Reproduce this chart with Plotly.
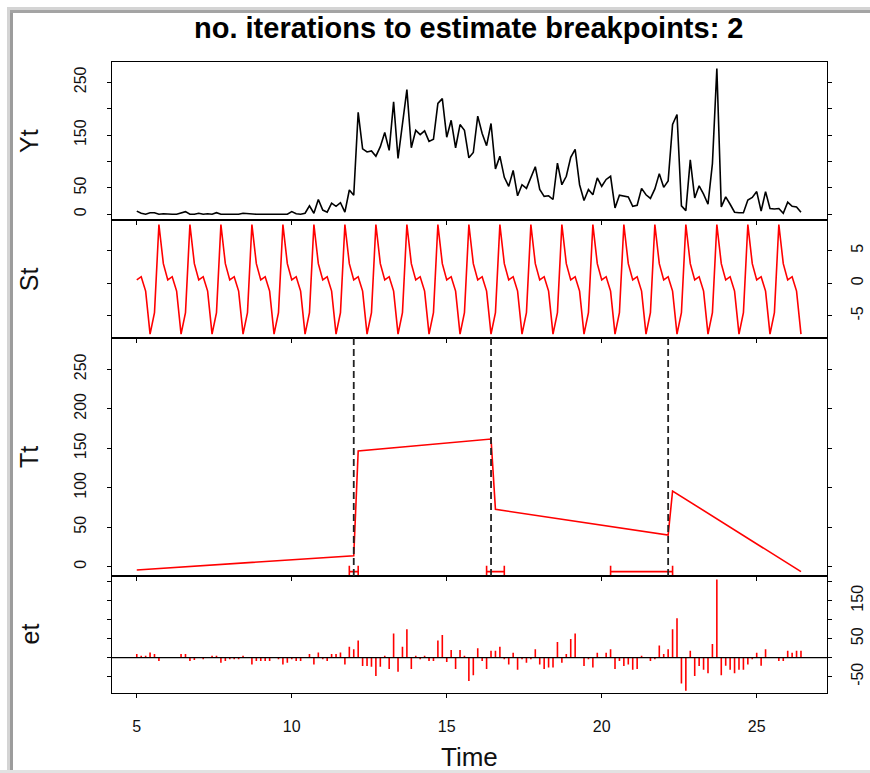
import numpy as np
import plotly.graph_objects as go

# ---------------- data ----------------
start_week = 5.0
obs_per_week = 7

yt = [6, 2, 0, 3, 3, 0, 1, 0, 0, 0, 2, 5, 0, 0, 2, 0, 1, 0, 3, 0,
      0, 0, 1, 0, 2, 1, 0, 0, 0, 0, 0, 0, 0, 0, 0, 5, 1, 0, 2, 16,
      2, 28, 8, 4, 21, 15, 22, 4, 46, 36, 193, 124, 118, 120, 110, 128, 155, 121, 213, 106,
      176, 236, 126, 159, 151, 158, 138, 142, 210, 219, 146, 178, 126, 170, 159, 107, 117, 186, 153, 130,
      172, 86, 110, 70, 53, 83, 35, 56, 49, 71, 90, 47, 34, 35, 28, 97, 56, 72, 108, 123,
      56, 26, 47, 37, 69, 53, 66, 72, 12, 36, 35, 33, 15, 17, 49, 37, 30, 48, 77, 51,
      63, 170, 189, 16, 7, 103, 31, 54, 38, 19, 96, 276, 14, 33, 19, 4, 3, 3, 27, 32,
      43, 6, 43, 11, 10, 11, 2, 23, 15, 14, 4]

et = [10, 5, 5, 14, 10, -9, 0, 0, 0, 0, 10, 10, -9, -6, 0, -4, 0, 5, 5, -13,
      -9, -4, -4, -4, 5, 0, -18, -9, -9, -9, -9, 0, -4, -18, -13, -4, -9, -9, 0, 10,
      -18, 14, -4, -9, 10, 10, 14, -18, 29, 22, 45, -22, -22, -24, -48, -24, 5, -30, 64, -37,
      29, 75, -30, 5, -4, 5, -9, -9, 45, 60, -11, 20, -30, 20, 5, -61, -46, 25, -9, -30,
      18, 18, 29, -4, -18, 13, -32, -4, -13, -4, 22, -18, -30, -26, -26, 41, -13, 10, 49, 64,
      0, -22, -4, -26, 13, 0, 13, 22, -30, -9, -22, -18, -32, -30, 5, 0, -9, -4, 32, 10,
      22, 75, 104, -68, -87, 18, -48, -22, -32, -41, 36, 206, -46, -21, -32, -41, -32, -32, -18, -4,
      13, -21, 22, 0, 0, -9, -9, 18, 13, 18, 18]

# one weekly seasonal cycle (St), starting on the first observation
st_cycle = [0.5, 1.0, -1.2, -7.8, -4.5, 9.0, 3.0]

# piecewise linear trend (segment start/end values)
trend_time = [5.0, 12.0, 12.143, 16.429, 16.571, 22.143, 22.286, 26.429]
trend_vals = [-4.2, 13.9, 146.5, 161.6, 72.6, 40.1, 95.8, -6.3]

# breakpoints and their confidence intervals
bp_time = [12.0, 16.429, 22.143]
ci_lo = [11.857, 16.286, 20.286]
ci_hi = [12.143, 16.857, 22.286]

x_ticks = [5, 10, 15, 20, 25]
title_text = "no. iterations to estimate breakpoints: 2"

# ---------------- derived series ----------------
n = len(yt)
t = start_week + np.arange(n) / obs_per_week
st = np.tile(st_cycle, n // len(st_cycle) + 1)[:n]

eh_x, eh_y = [], []
for ti, v in zip(t, et):
    eh_x += [ti, ti, None]
    eh_y += [0, v, None]

ci_y = [min(trend_vals)] * len(bp_time)
ci_plus = [h - b for h, b in zip(ci_hi, bp_time)]
ci_minus = [b - l for l, b in zip(ci_lo, bp_time)]

# ---------------- layout geometry ----------------
W, H = 870, 773
PL, PR = 111.8, 827.0
panels = [(61.7, 220.3), (220.3, 338.0), (338.0, 576.0), (576.0, 693.0)]
xdom = [PL / W, PR / W]
ydoms = [[1 - b / H, 1 - tp / H] for tp, b in panels]
xrange = [4.194, 27.268]

RED = "#ff0000"
FONT = "Liberation Sans, Arial, sans-serif"
LW = 1.6

fig = go.Figure()
fig.add_trace(go.Scatter(x=t, y=yt, mode="lines", line=dict(color="black", width=LW),
                         xaxis="x", yaxis="y", showlegend=False))
fig.add_trace(go.Scatter(x=t, y=st, mode="lines", line=dict(color=RED, width=LW),
                         xaxis="x2", yaxis="y2", showlegend=False))
fig.add_trace(go.Scatter(x=trend_time, y=trend_vals, mode="lines", line=dict(color=RED, width=LW),
                         xaxis="x3", yaxis="y3", showlegend=False))
fig.add_trace(go.Scatter(x=bp_time, y=ci_y, mode="markers",
                         marker=dict(size=1, color=RED),
                         error_x=dict(type="data", symmetric=False, array=ci_plus,
                                      arrayminus=ci_minus, color=RED, thickness=1.6, width=6),
                         xaxis="x3", yaxis="y3", showlegend=False, cliponaxis=True))
fig.add_trace(go.Scatter(x=eh_x, y=eh_y, mode="lines", line=dict(color=RED, width=LW),
                         xaxis="x4", yaxis="y4", showlegend=False))

tickfont = dict(family=FONT, size=16, color="#111")

def xaxis(anchor, labels):
    return dict(domain=xdom, range=xrange, anchor=anchor, showline=True, linecolor="black",
                linewidth=1.2, mirror=True, ticks="outside", ticklen=4, tickcolor="black",
                tickwidth=1.2, tickvals=x_ticks, showticklabels=labels, tickfont=tickfont,
                showgrid=False, zeroline=False, ticklabelstandoff=15, automargin=False)

def yaxis(dom, rng, vals, texts, side, anchor):
    return dict(domain=dom, range=rng, anchor=anchor, side=side, showline=True,
                linecolor="black", linewidth=1.2, mirror="ticks", ticks="outside", ticklen=4,
                tickcolor="black", tickwidth=1.2, tickvals=vals, ticktext=texts,
                tickangle=-90, tickfont=tickfont, showgrid=False, zeroline=False,
                ticklabelstandoff=14 if side == "left" else 12, automargin=False)

layout = dict(
    width=W, height=H, margin=dict(l=0, r=0, t=0, b=0, autoexpand=False),
    paper_bgcolor="white", plot_bgcolor="white", showlegend=False,
    xaxis=xaxis("y", False),
    xaxis2=xaxis("y2", False),
    xaxis3=xaxis("y3", False),
    xaxis4=xaxis("y4", True),
    yaxis=yaxis(ydoms[0], [-11.4, 289], [0, 50, 100, 150, 200, 250],
                ["0", "50", "", "150", "", "250"], "left", "x"),
    yaxis2=yaxis(ydoms[1], [-8.4, 9.65], [-5, 0, 5], ["-5", "0", "5"], "right", "x2"),
    yaxis3=yaxis(ydoms[2], [-11.8, 289.6], [0, 50, 100, 150, 200, 250],
                 ["0", "50", "100", "150", "200", "250"], "left", "x3"),
    yaxis4=yaxis(ydoms[3], [-92.9, 215], [-50, 0, 50, 100, 150, 200],
                 ["-50", "", "50", "", "150", ""], "right", "x4"),
)
fig.update_layout(**layout)

shapes = []
for b in bp_time:
    shapes.append(dict(type="line", xref="x3", yref="y3 domain", x0=b, x1=b, y0=0, y1=1,
                       line=dict(color="#222", width=1.8, dash="7px,4px")))
shapes.append(dict(type="line", xref="x4 domain", yref="y4", x0=0, x1=1, y0=0, y1=0,
                   line=dict(color="black", width=1.3)))
# window-shadow frame of the screenshot
shapes += [
    dict(type="rect", xref="paper", yref="paper", x0=7 / W, x1=10 / W, y0=0, y1=1 - 7 / H,
         line=dict(width=0), fillcolor="#d4d4d4", layer="above"),
    dict(type="rect", xref="paper", yref="paper", x0=10 / W, x1=13 / W, y0=0, y1=1 - 7 / H,
         line=dict(width=0), fillcolor="#9c9c9c", layer="above"),
    dict(type="rect", xref="paper", yref="paper", x0=7 / W, x1=1, y0=1 - 10 / H, y1=1 - 7 / H,
         line=dict(width=0), fillcolor="#d4d4d4", layer="above"),
    dict(type="rect", xref="paper", yref="paper", x0=10 / W, x1=1, y0=1 - 13 / H, y1=1 - 10 / H,
         line=dict(width=0), fillcolor="#a4a4a4", layer="above"),
    dict(type="rect", xref="paper", yref="paper", x0=0, x1=1, y0=0, y1=3 / H,
         line=dict(width=0), fillcolor="#e2e2e2", layer="above"),
]
fig.update_layout(shapes=shapes)

ann = []
for name, (tp, b) in zip(["Yt", "St", "Tt", "et"], panels):
    ann.append(dict(text=name, xref="paper", yref="paper", x=29 / W, y=1 - (tp + b) / 2 / H,
                    xanchor="center", yanchor="middle", textangle=-90, showarrow=False,
                    font=dict(family=FONT, size=25, color="#111")))
ann.append(dict(text="Time", xref="paper", yref="paper", x=(PL + PR) / 2 / W, y=1 - 757 / H,
                xanchor="center", yanchor="middle", showarrow=False,
                font=dict(family=FONT, size=26, color="#111")))
ann.append(dict(text=title_text, xref="paper", yref="paper", x=(PL + PR) / 2 / W, y=1 - 28 / H,
                xanchor="center", yanchor="middle", showarrow=False,
                font=dict(family=FONT, size=29, color="black", weight="bold")))
fig.update_layout(annotations=ann)

fig.write_html("out.html")
